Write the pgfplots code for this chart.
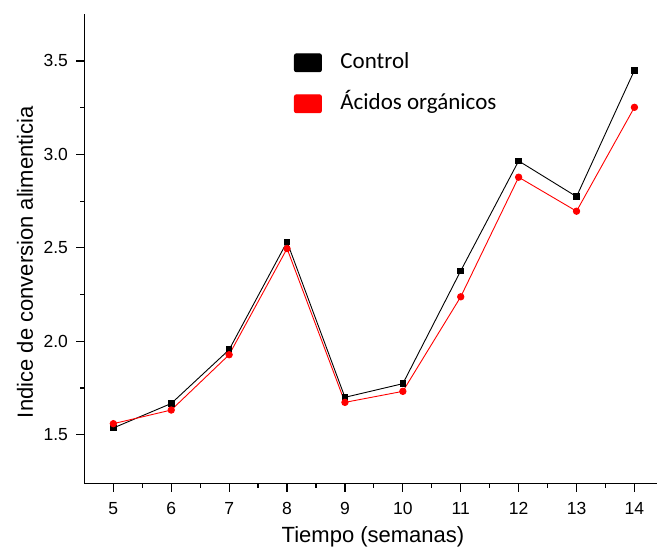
\documentclass[border=0pt]{standalone}
\usepackage{pgfplots}
\pgfplotsset{compat=1.18}
\usepackage{fontspec}
\setmainfont{Liberation Sans}
\newfontfamily\calibri{Carlito}
\begin{document}
\begin{tikzpicture}
\begin{axis}[
  scale only axis,
  width=572.6pt, height=469.4pt,
  xmin=4.5, xmax=14.39,
  ymin=1.238, ymax=3.75,
  axis x line*=bottom, axis y line*=left,
  axis line style={line width=1.4pt},
  every tick/.style={line width=1.2pt, black},
  tick align=outside,
  major tick length=8pt, minor tick length=4pt,
  xtick={5,...,14}, minor x tick num=1,
  ytick={1.5,2.0,2.5,3.0,3.5}, minor y tick num=1,
  /pgf/number format/assume math mode=true,
  yticklabel style={/pgf/number format/fixed, /pgf/number format/fixed zerofill, /pgf/number format/precision=1, xshift=-5pt},
  xticklabel style={yshift=-7pt},
  tick label style={font=\fontsize{17.5}{21}\selectfont},
  label style={font=\fontsize{22}{26}\selectfont},
  xlabel={Tiempo (semanas)},
  ylabel={Indice de conversion alimenticia},
  xlabel style={at={(axis description cs:0.504,0)}, anchor=base, yshift=-59pt},
  ylabel style={at={(axis description cs:-0.0901,0.472)}, anchor=base},
  legend style={draw=none, fill=none, inner sep=0pt, outer sep=0pt,
    at={(0.366,0.919)}, anchor=north west, row sep=20pt,
    font=\calibri\fontsize{23}{27}\selectfont,
    nodes={inner sep=0pt, text height=16pt, text depth=5pt}},
  legend cell align=left,
  legend image code/.code={\fill[rounded corners=2pt] (0pt,-9pt) rectangle (27pt,9pt); \path[draw=none,fill=none] (0pt,0pt) -- (46pt,0pt);},
]
\addplot[black, line width=0.9pt, mark=square*, mark size=2.8pt, mark options={solid}] coordinates {
(5,1.536) (6,1.667) (7,1.955) (8,2.532) (9,1.700) (10,1.773) (11,2.377) (12,2.965) (13,2.774) (14,3.450)};
\addlegendentry{Control}
\addplot[red, line width=0.9pt, mark=*, mark size=3.2pt, mark options={solid}] coordinates {
(5,1.559) (6,1.632) (7,1.928) (8,2.496) (9,1.673) (10,1.732) (11,2.238) (12,2.878) (13,2.696) (14,3.252)};
\addlegendentry{Ácidos orgánicos}
\end{axis}
\pgfresetboundingbox
\path ([shift={(-84.4pt,-66pt)}]current axis.south west) rectangle ([shift={(0pt,14.25pt)}]current axis.north east);
\end{tikzpicture}
\end{document}
